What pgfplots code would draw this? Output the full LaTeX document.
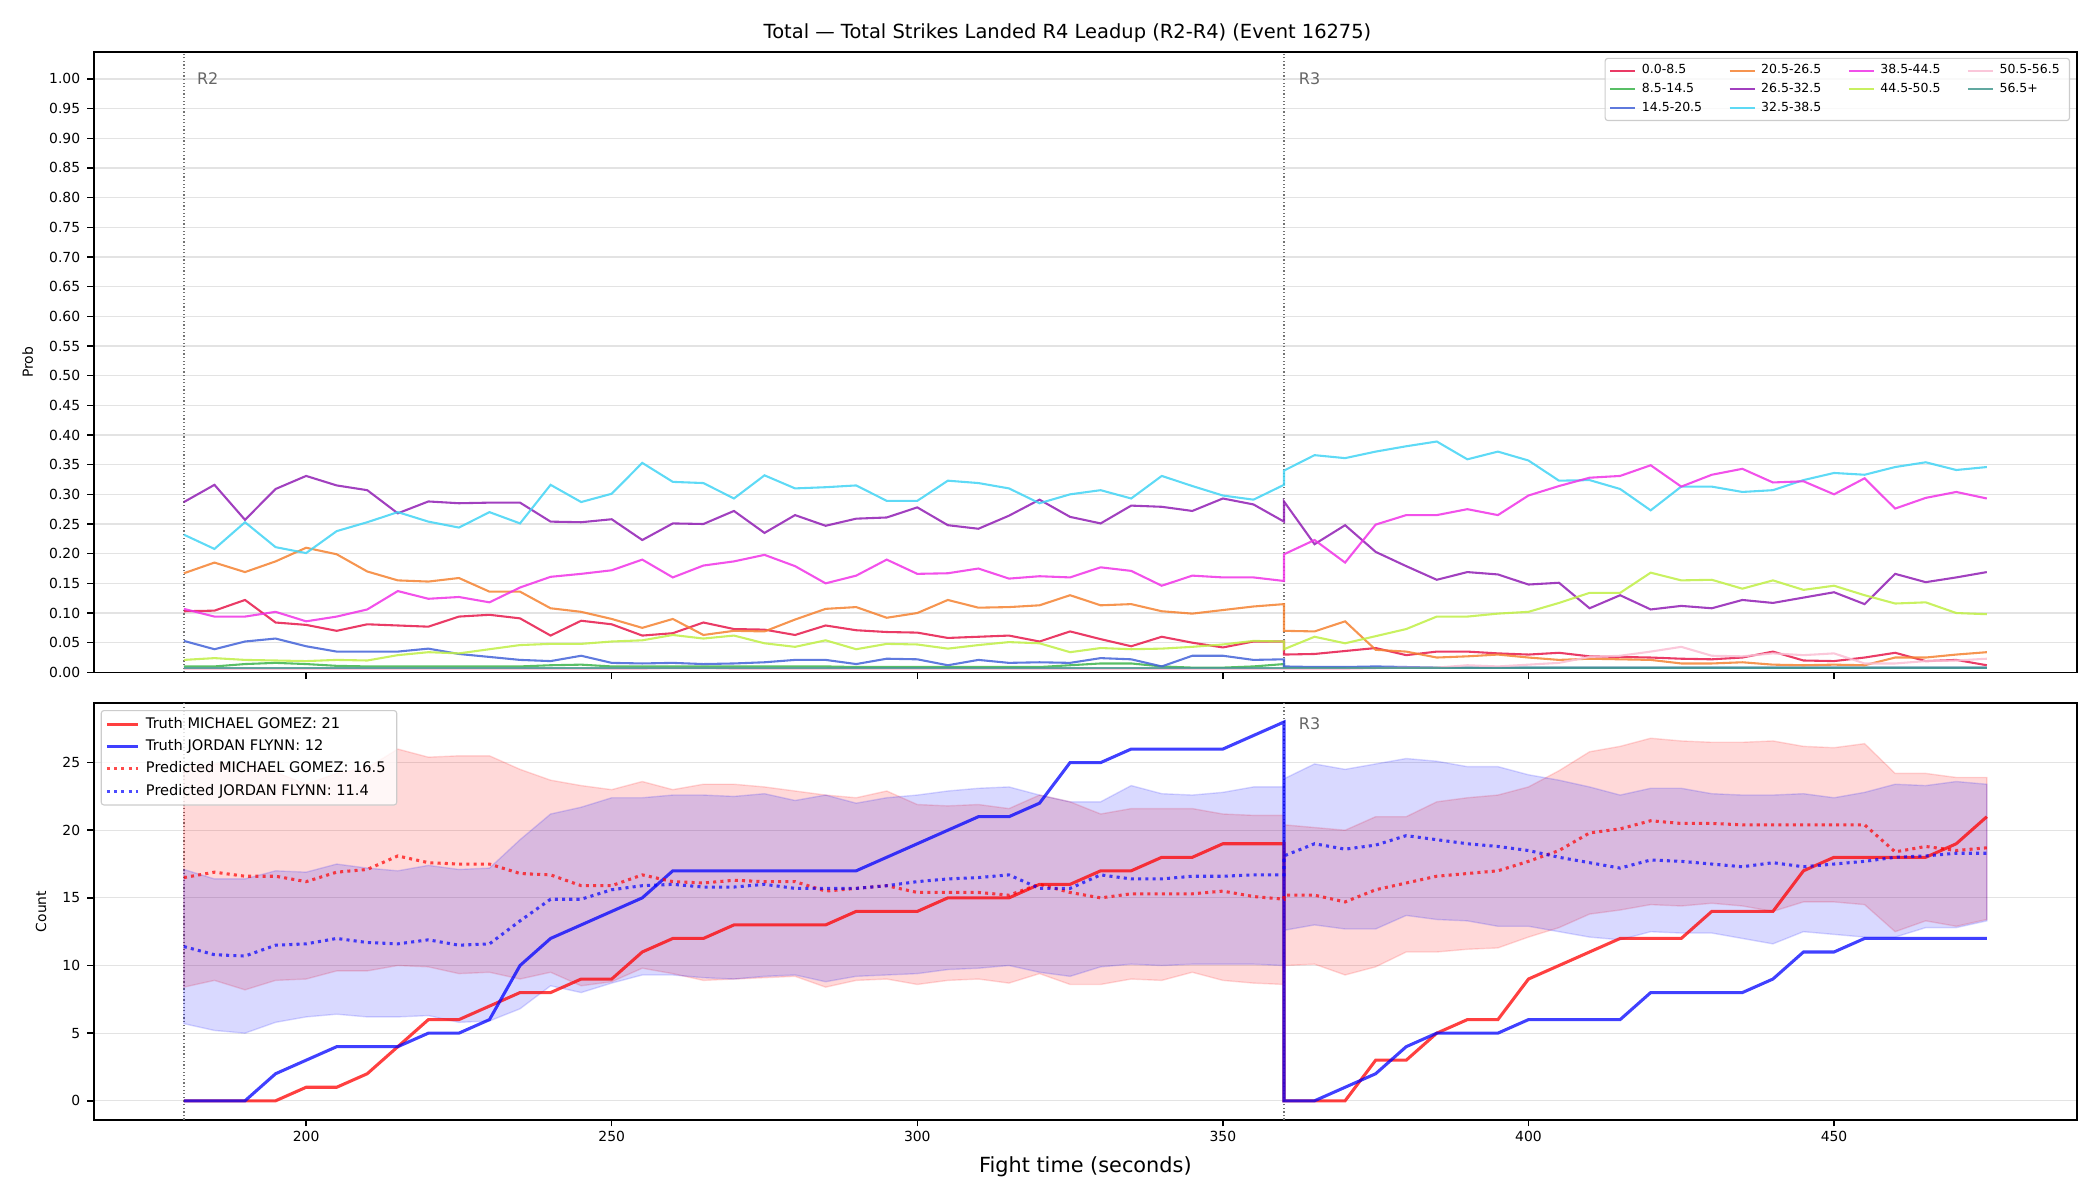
\documentclass[border=0pt]{standalone}
\usepackage{fontspec}
\setmainfont{DejaVu Sans}
\usepackage{pgfplots}
\usepackage{pgfplotstable}
\pgfplotsset{compat=1.18}

\definecolor{c1}{HTML}{E6194B}
\definecolor{c2}{HTML}{3CB44B}
\definecolor{c3}{HTML}{4363D8}
\definecolor{c4}{HTML}{F58231}
\definecolor{c5}{HTML}{911EB4}
\definecolor{c6}{HTML}{42D4F4}
\definecolor{c7}{HTML}{F032E6}
\definecolor{c8}{HTML}{BFEF45}
\definecolor{c9}{HTML}{FABED4}
\definecolor{c10}{HTML}{469990}

% probability of each total-strikes bin, R2 then R3 (360 appears twice: end of R2, start of R3)
\pgfplotstableread{
t b1 b2 b3 b4 b5 b6 b7 b8 b9 b10
180 .103 .010 .053 .167 .287 .232 .107 .021 .006 .008
185 .104 .010 .039 .185 .316 .208 .094 .024 .006 .008
190 .122 .014 .052 .169 .257 .253 .094 .021 .006 .008
195 .084 .016 .057 .187 .309 .211 .102 .020 .006 .008
200 .080 .014 .044 .210 .331 .201 .086 .019 .006 .008
205 .070 .011 .035 .199 .315 .238 .094 .021 .006 .008
210 .081 .010 .035 .170 .307 .253 .106 .020 .006 .008
215 .079 .010 .035 .155 .268 .270 .137 .029 .006 .008
220 .077 .010 .040 .153 .288 .254 .124 .034 .006 .008
225 .094 .010 .031 .159 .285 .244 .127 .032 .006 .008
230 .097 .010 .026 .136 .286 .270 .118 .039 .006 .008
235 .091 .010 .021 .136 .286 .251 .143 .046 .006 .008
240 .062 .012 .019 .108 .254 .316 .161 .048 .006 .008
245 .087 .013 .028 .102 .253 .287 .166 .048 .006 .008
250 .081 .010 .016 .090 .258 .301 .172 .052 .006 .008
255 .062 .010 .015 .075 .223 .353 .190 .054 .006 .008
260 .066 .010 .016 .090 .251 .321 .160 .063 .007 .008
265 .084 .010 .014 .063 .250 .319 .180 .057 .007 .008
270 .073 .010 .015 .070 .272 .293 .187 .062 .006 .008
275 .072 .010 .017 .069 .235 .332 .198 .049 .006 .008
280 .063 .010 .021 .089 .265 .310 .179 .043 .006 .008
285 .079 .010 .021 .107 .247 .312 .150 .054 .006 .008
290 .071 .009 .014 .110 .259 .315 .163 .039 .006 .008
295 .068 .009 .023 .092 .261 .289 .190 .048 .006 .008
300 .067 .009 .022 .100 .278 .289 .166 .047 .006 .008
305 .058 .009 .012 .122 .248 .323 .167 .040 .006 .008
310 .060 .009 .021 .109 .242 .319 .175 .046 .006 .008
315 .062 .009 .016 .110 .264 .310 .158 .051 .006 .008
320 .052 .009 .017 .113 .291 .285 .162 .049 .006 .008
325 .069 .012 .016 .130 .262 .300 .160 .034 .006 .008
330 .056 .015 .024 .113 .251 .307 .177 .041 .006 .008
335 .044 .015 .022 .115 .281 .293 .171 .039 .006 .008
340 .060 .010 .010 .103 .279 .331 .146 .040 .006 .008
345 .050 .008 .028 .099 .272 .314 .163 .043 .006 .008
350 .042 .008 .028 .105 .293 .298 .160 .047 .006 .008
355 .052 .010 .021 .111 .283 .291 .160 .053 .006 .008
360 .052 .014 .022 .115 .254 .316 .154 .052 .006 .008
360 .030 .008 .010 .070 .288 .340 .199 .039 .006 .008
365 .031 .008 .009 .069 .216 .366 .223 .060 .006 .008
370 .036 .008 .009 .086 .248 .361 .185 .049 .006 .008
375 .041 .008 .010 .038 .203 .372 .249 .061 .007 .008
380 .029 .008 .009 .035 .179 .381 .265 .073 .008 .008
385 .035 .008 .008 .025 .156 .389 .265 .094 .008 .008
390 .035 .008 .008 .027 .169 .359 .275 .094 .012 .008
395 .032 .008 .008 .030 .165 .372 .265 .099 .010 .008
400 .030 .008 .008 .025 .148 .357 .298 .102 .013 .008
405 .033 .008 .008 .021 .151 .323 .314 .117 .016 .008
410 .027 .008 .008 .023 .108 .324 .328 .134 .026 .008
415 .026 .008 .008 .022 .130 .309 .331 .134 .028 .008
420 .025 .008 .008 .021 .106 .273 .349 .168 .035 .008
425 .023 .008 .008 .015 .112 .313 .313 .155 .043 .008
430 .022 .008 .008 .015 .108 .313 .333 .156 .028 .008
435 .025 .008 .008 .017 .122 .304 .343 .141 .027 .008
440 .035 .008 .008 .013 .117 .307 .320 .155 .032 .008
445 .020 .008 .008 .012 .126 .324 .322 .139 .029 .008
450 .019 .008 .008 .013 .135 .336 .300 .146 .032 .008
455 .025 .008 .008 .012 .115 .333 .327 .130 .015 .008
460 .033 .008 .008 .025 .166 .346 .276 .116 .015 .008
465 .019 .008 .008 .025 .152 .354 .294 .118 .019 .008
470 .021 .008 .008 .030 .160 .341 .304 .100 .020 .008
475 .012 .008 .008 .034 .169 .346 .293 .098 .023 .008
}\probs

% cumulative counts: truth and predicted median for each fighter
\pgfplotstableread{
t tr tb pr pb
180 0 0 16.5 11.4
185 0 0 16.9 10.8
190 0 0 16.6 10.7
195 0 2 16.6 11.5
200 1 3 16.2 11.6
205 1 4 16.9 12.0
210 2 4 17.1 11.7
215 4 4 18.1 11.6
220 6 5 17.6 11.9
225 6 5 17.5 11.5
230 7 6 17.5 11.6
235 8 10 16.8 13.3
240 8 12 16.7 14.9
245 9 13 15.9 14.9
250 9 14 15.9 15.6
255 11 15 16.7 15.9
260 12 17 16.2 16.0
265 12 17 16.1 15.8
270 13 17 16.3 15.8
275 13 17 16.2 16.0
280 13 17 16.2 15.7
285 13 17 15.5 15.7
290 14 17 15.7 15.7
295 14 18 15.9 15.9
300 14 19 15.4 16.2
305 15 20 15.4 16.4
310 15 21 15.4 16.5
315 15 21 15.2 16.7
320 16 22 16.0 15.7
325 16 25 15.4 15.7
330 17 25 15.0 16.7
335 17 26 15.3 16.4
340 18 26 15.3 16.4
345 18 26 15.3 16.6
350 19 26 15.5 16.6
355 19 27 15.1 16.7
360 19 28 14.9 16.7
360 0 0 15.2 18.1
365 0 0 15.2 19.0
370 0 1 14.7 18.6
375 3 2 15.6 18.9
380 3 4 16.1 19.6
385 5 5 16.6 19.3
390 6 5 16.8 19.0
395 6 5 17.0 18.8
400 9 6 17.7 18.5
405 10 6 18.5 18.0
410 11 6 19.8 17.6
415 12 6 20.1 17.2
420 12 8 20.7 17.8
425 12 8 20.5 17.7
430 14 8 20.5 17.5
435 14 8 20.4 17.3
440 14 9 20.4 17.6
445 17 11 20.4 17.3
450 18 11 20.4 17.5
455 18 12 20.4 17.7
460 18 12 18.4 18.0
465 18 12 18.8 18.1
470 19 12 18.5 18.3
475 21 12 18.7 18.3
}\counts

% prediction bands as closed outlines: upper edge forward, lower edge back
\pgfplotstableread{
t y
180 24.6
185 24.9
190 25.0
195 24.3
200 23.4
205 24.2
210 24.6
215 26.0
220 25.4
225 25.5
230 25.5
235 24.5
240 23.7
245 23.3
250 23.0
255 23.6
260 23.0
265 23.4
270 23.4
275 23.2
280 22.9
285 22.6
290 22.4
295 22.9
300 21.9
305 21.8
310 21.9
315 21.6
320 22.6
325 22.1
330 21.2
335 21.6
340 21.6
345 21.6
350 21.2
355 21.1
360 21.1
360 20.4
365 20.2
370 20.0
375 21.0
380 21.0
385 22.1
390 22.4
395 22.6
400 23.2
405 24.4
410 25.8
415 26.2
420 26.8
425 26.6
430 26.5
435 26.5
440 26.6
445 26.2
450 26.1
455 26.4
460 24.2
465 24.2
470 23.9
475 23.9
475 13.4
470 12.9
465 13.3
460 12.5
455 14.5
450 14.7
445 14.7
440 14.0
435 14.4
430 14.6
425 14.4
420 14.5
415 14.1
410 13.8
405 12.8
400 12.1
395 11.3
390 11.2
385 11.0
380 11.0
375 9.9
370 9.3
365 10.1
360 10.0
360 8.6
355 8.7
350 8.9
345 9.5
340 8.9
335 9.0
330 8.6
325 8.6
320 9.4
315 8.7
310 9.0
305 8.9
300 8.6
295 9.0
290 8.9
285 8.4
280 9.2
275 9.1
270 9.0
265 8.9
260 9.4
255 9.8
250 8.8
245 8.5
240 9.5
235 9.0
230 9.5
225 9.4
220 9.9
215 10.0
210 9.6
205 9.6
200 9.0
195 8.9
190 8.2
185 8.9
180 8.4
}\bandR

\pgfplotstableread{
t y
180 17.1
185 16.4
190 16.4
195 17.0
200 16.9
205 17.5
210 17.2
215 17.0
220 17.4
225 17.1
230 17.2
235 19.3
240 21.2
245 21.7
250 22.4
255 22.4
260 22.6
265 22.6
270 22.5
275 22.7
280 22.2
285 22.6
290 22.0
295 22.4
300 22.6
305 22.9
310 23.1
315 23.2
320 22.6
325 22.1
330 22.1
335 23.3
340 22.7
345 22.6
350 22.8
355 23.2
360 23.2
360 23.8
365 24.9
370 24.5
375 24.9
380 25.3
385 25.1
390 24.7
395 24.7
400 24.1
405 23.7
410 23.2
415 22.6
420 23.1
425 23.1
430 22.7
435 22.6
440 22.6
445 22.7
450 22.4
455 22.8
460 23.4
465 23.3
470 23.6
475 23.4
475 13.3
470 12.8
465 12.8
460 12.1
455 12.1
450 12.3
445 12.5
440 11.6
435 12.0
430 12.4
425 12.4
420 12.5
415 11.9
410 12.1
405 12.5
400 12.9
395 12.9
390 13.3
385 13.4
380 13.7
375 12.7
370 12.7
365 13.0
360 12.6
360 10.0
355 10.1
350 10.1
345 10.1
340 10.0
335 10.1
330 9.9
325 9.2
320 9.5
315 10.0
310 9.8
305 9.7
300 9.4
295 9.3
290 9.2
285 8.8
280 9.3
275 9.2
270 9.0
265 9.1
260 9.3
255 9.3
250 8.7
245 8.0
240 8.5
235 6.8
230 5.9
225 5.8
220 6.3
215 6.2
210 6.2
205 6.4
200 6.2
195 5.8
190 5.0
185 5.2
180 5.7
}\bandB

\pgfplotsset{
  panel/.style={
    scale only axis, width=1427.9pt,
    xmin=165.25, xmax=489.75,
    xtick={200,250,300,350,400,450},
    xtick pos=lower, ytick pos=left,
    tick align=outside, major tick length=4.8pt,
    tick style={black, line width=1.1pt},
    axis line style={black, line width=1.2pt},
    ymajorgrids, grid style={black!11, line width=0.9pt},
    /pgf/number format/assume math mode=true,
    ticklabel style={font=\fontsize{10}{12}\selectfont},
    yticklabel style={xshift=-1.5pt},
    label style={font=\fontsize{10}{12}\selectfont},
    ylabel shift=4.8pt,
    legend cell align=left,
  },
  bin/.style={line width=1.5pt, draw opacity=0.85},
  roundline/.style={dash pattern=on 0.9pt off 1.7pt, line width=0.9pt, black!55},
}
\tikzset{
  roundlabel/.style={anchor=west, inner sep=0pt, text=black!60, font=\fontsize{11.5}{13}\selectfont},
}

\begin{document}
\begin{tikzpicture}
\useasboundingbox (0,0) rectangle (1512pt,-864pt);

\node[font=\fontsize{14}{17}\selectfont, anchor=center] at (768.6pt,-24.2pt)
  {Total — Total Strikes Landed R4 Leadup (R2-R4) (Event 16275)};

% ---------- bin probabilities ----------
\begin{axis}[panel,
  at={(67.5pt,-484.1pt)}, anchor=south west, height=446.5pt,
  ymin=0, ymax=1.045,
  ytick={0,0.05,0.1,0.15,0.2,0.25,0.3,0.35,0.4,0.45,0.5,0.55,0.6,0.65,0.7,0.75,0.8,0.85,0.9,0.95,1},
  yticklabel style={/pgf/number format/.cd, fixed, fixed zerofill, precision=2},
  xticklabels={},
  ylabel={Prob},
  legend columns=4,
  legend image code/.code={\draw[#1] (0pt,0pt) -- (18pt,0pt);},
  legend style={at={(1,1)}, anchor=north east, xshift=-5pt, yshift=-4pt,
    font=\fontsize{9}{10.5}\selectfont,
    draw=black!20, line width=0.8pt, rounded corners=2pt,
    fill=white, fill opacity=0.8, text opacity=1,
    inner xsep=3pt, inner ysep=2pt,
    nodes={text height=6.6pt, text depth=1.8pt, inner ysep=2.6pt, inner xsep=4pt},
    /tikz/every even column/.append style={column sep=15pt}},
]
\addplot[roundline, forget plot] coordinates {(180,0) (180,1.045)};
\addplot[roundline, forget plot] coordinates {(360,0) (360,1.045)};
\node[roundlabel] at (axis cs:182.1,1.0) {R2};
\node[roundlabel] at (axis cs:362.4,1.0) {R3};

\addplot[c1,  bin, forget plot] table[x=t, y=b1]  {\probs};
\addplot[c2,  bin, forget plot] table[x=t, y=b2]  {\probs};
\addplot[c3,  bin, forget plot] table[x=t, y=b3]  {\probs};
\addplot[c4,  bin, forget plot] table[x=t, y=b4]  {\probs};
\addplot[c5,  bin, forget plot] table[x=t, y=b5]  {\probs};
\addplot[c6,  bin, forget plot] table[x=t, y=b6]  {\probs};
\addplot[c7,  bin, forget plot] table[x=t, y=b7]  {\probs};
\addplot[c8,  bin, forget plot] table[x=t, y=b8]  {\probs};
\addplot[c9,  bin, forget plot] table[x=t, y=b9]  {\probs};
\addplot[c10, bin, forget plot] table[x=t, y=b10] {\probs};

% legend filled column by column, four columns
\addlegendimage{c1, bin}\addlegendentry{0.0-8.5}
\addlegendimage{c4, bin}\addlegendentry{20.5-26.5}
\addlegendimage{c7, bin}\addlegendentry{38.5-44.5}
\addlegendimage{c9, bin}\addlegendentry{50.5-56.5}
\addlegendimage{c2, bin}\addlegendentry{8.5-14.5}
\addlegendimage{c5, bin}\addlegendentry{26.5-32.5}
\addlegendimage{c8, bin}\addlegendentry{44.5-50.5}
\addlegendimage{c10, bin}\addlegendentry{56.5+}
\addlegendimage{c3, bin}\addlegendentry{14.5-20.5}
\addlegendimage{c6, bin}\addlegendentry{32.5-38.5}
\end{axis}

% ---------- cumulative counts ----------
\begin{axis}[panel,
  at={(67.5pt,-806.2pt)}, anchor=south west, height=300pt,
  ymin=-1.4, ymax=29.4,
  ytick={0,5,10,15,20,25},
  xlabel={Fight time (seconds)},
  xlabel style={font=\fontsize{15}{18}\selectfont},
  xlabel shift=3.5pt,
  ylabel={Count},
  legend image code/.code={\draw[#1] (0pt,0pt) -- (22pt,0pt);},
  legend style={at={(0,1)}, anchor=north west, xshift=5pt, yshift=-5pt,
    font=\fontsize{10.5}{12.5}\selectfont,
    draw=black!20, line width=0.8pt, rounded corners=2pt,
    fill=white, fill opacity=0.8, text opacity=1,
    inner xsep=3pt, inner ysep=2pt,
    nodes={text height=7.7pt, text depth=2.1pt, inner ysep=3.1pt, inner xsep=5pt}},
]
\addplot[roundline, forget plot] coordinates {(180,-1.4) (180,29.4)};
\addplot[roundline, forget plot] coordinates {(360,-1.4) (360,29.4)};
\node[roundlabel] at (axis cs:362.4,27.9) {R3};

\addplot[fill=red, fill opacity=0.15, draw=red, draw opacity=0.15, line width=1pt, forget plot] table[x=t, y=y] {\bandR} -- cycle;
\addplot[fill=blue, fill opacity=0.15, draw=blue, draw opacity=0.15, line width=1pt, forget plot] table[x=t, y=y] {\bandB} -- cycle;

\addplot[red, line width=2.2pt, draw opacity=0.75] table[x=t, y=tr] {\counts};
\addlegendentry{Truth MICHAEL GOMEZ: 21}
\addplot[blue, line width=2.2pt, draw opacity=0.75] table[x=t, y=tb] {\counts};
\addlegendentry{Truth JORDAN FLYNN: 12}
\addplot[red, line width=2.2pt, draw opacity=0.7, dash pattern=on 2.2pt off 3pt] table[x=t, y=pr] {\counts};
\addlegendentry{Predicted MICHAEL GOMEZ: 16.5}
\addplot[blue, line width=2.2pt, draw opacity=0.7, dash pattern=on 2.2pt off 3pt] table[x=t, y=pb] {\counts};
\addlegendentry{Predicted JORDAN FLYNN: 11.4}
\end{axis}
\end{tikzpicture}
\end{document}
